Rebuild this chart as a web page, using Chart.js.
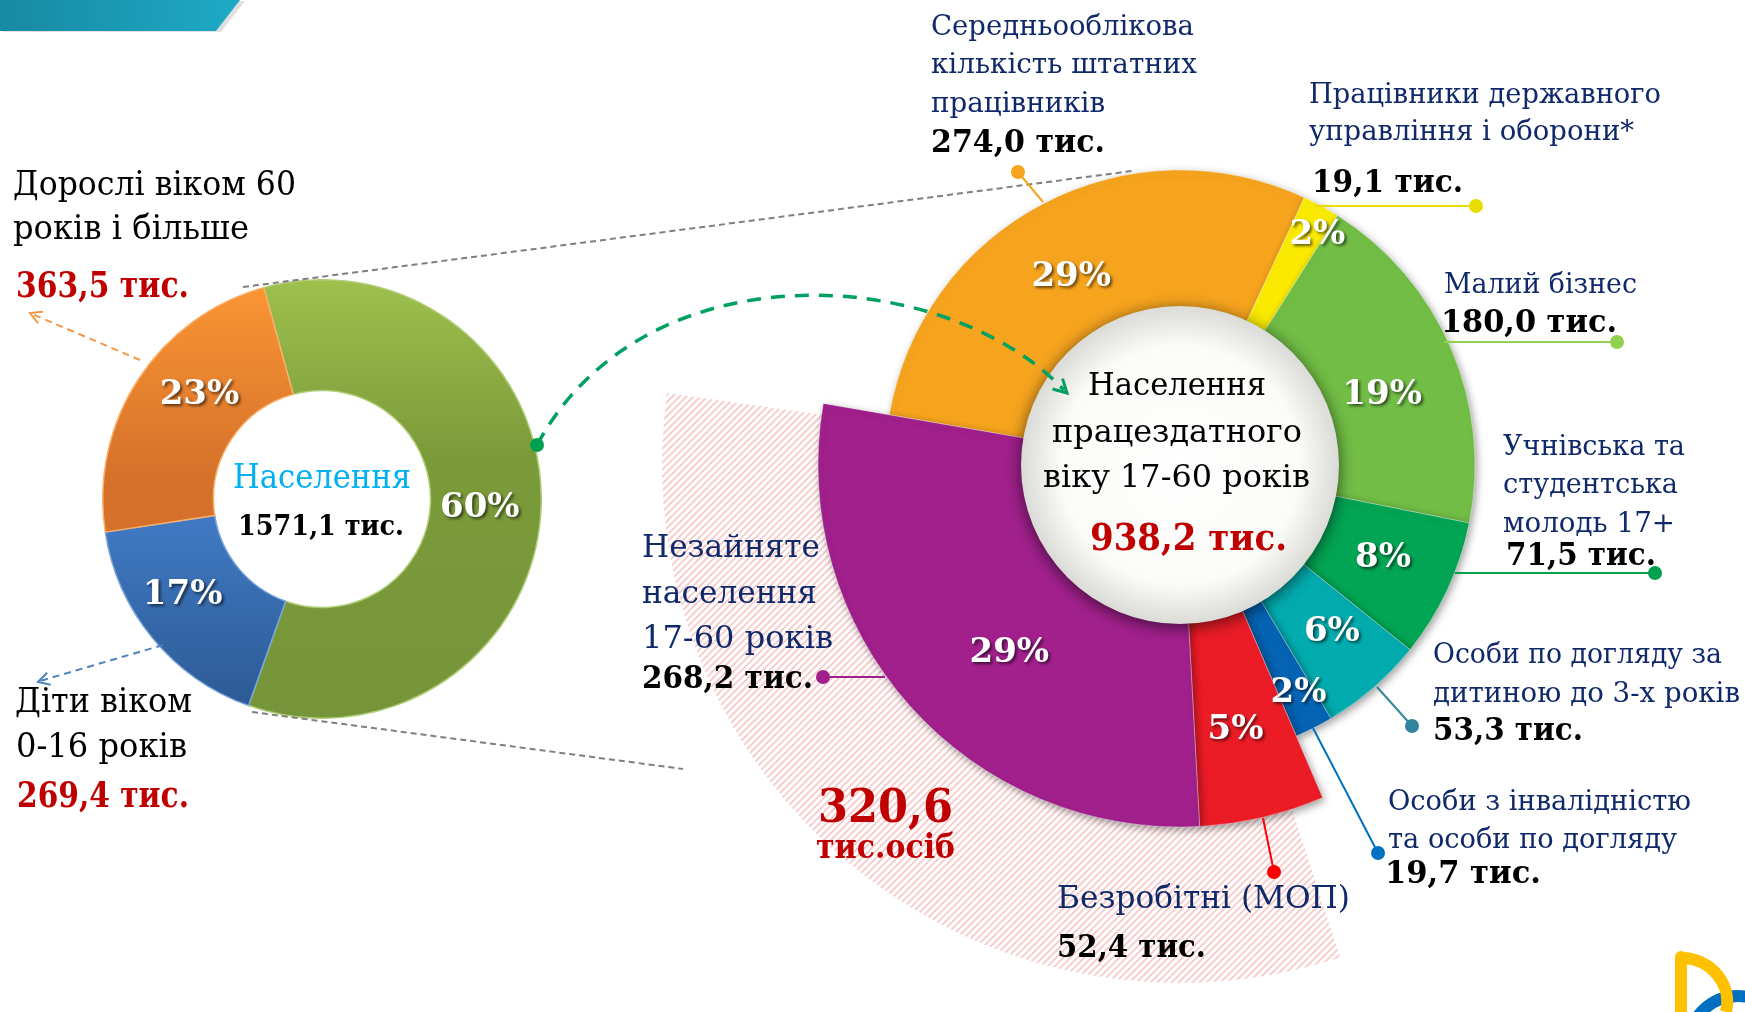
<!DOCTYPE html>
<html>
<head>
<meta charset="utf-8">
<script src="https://cdn.jsdelivr.net/npm/chart.js@4.4.1/dist/chart.umd.min.js"></script>
<style>
    html, body { margin: 0; padding: 0; width: 1745px; height: 1012px; overflow: hidden; background: #fff; }
    #leftWrap { position: absolute; left: 102px; top: 279px; width: 440px; height: 440px; }
    #rightWrap { position: absolute; left: 633px; top: -82px; width: 1094px; height: 1094px; }
    #overlay { position: absolute; left: 0; top: 0; width: 1745px; height: 1012px; pointer-events: none; }
</style>
</head>
<body>
<div id="rightWrap"><canvas id="rightChart"></canvas></div>
<div id="leftWrap"><canvas id="leftChart"></canvas></div>
<svg id="overlay" xmlns="http://www.w3.org/2000/svg" width="1745" height="1012"></svg>

<script>
// Населення (ліва діаграма)
const leftCategories = ['Населення працездатного віку 17-60 років', 'Діти віком 0-16 років', 'Дорослі віком 60 років і більше'];
const leftValues = [938.2, 269.4, 363.5];
const leftShareLabels = ['60%', '17%', '23%'];

// Населення працездатного віку (права діаграма)
const rightCategories = [
    'Середньооблікова кількість штатних працівників',
    'Працівники державного управління і оборони*',
    'Малий бізнес',
    'Учнівська та студентська молодь 17+',
    'Особи по догляду за дитиною до 3-х років',
    'Особи з інвалідністю та особи по догляду',
    'Безробітні (МОП)',
    'Незайняте населення 17-60 років'
];
const rightValues = [274.0, 19.1, 180.0, 71.5, 53.3, 19.7, 52.4, 268.2];
const rightShareLabels = ['29%', '2%', '19%', '8%', '6%', '2%', '5%', '29%'];
const outsideWorkforce = ['Безробітні (МОП)', 'Незайняте населення 17-60 років'];

// styles
const rightColors = ['#f6a41e', '#fbea00', '#71bd45', '#02a553', '#02abae', '#0563b3', '#ec1c27', '#a1208c'];
// label placement: radius and small angle shift (degrees) from the slice middle
const rightLabelRadius = [220, 270, 215, 222, 224, 254, 268, 252];
const rightLabelShift = [-2, 2, 3.3, -1.2, -1.7, -0.8, 1.2, -5.7];
const leftLabelNudge = [[-6, 0], [-13, -11], [15, -18]];
const FONT = '"DejaVu Serif", "Liberation Serif", serif';
const NAVY = '#10296a';
const DARKRED = '#c00000';

function fmt(v) {
    return v.toFixed(1).replace('.', ',') + ' тис.';
}

function sum(arr) {
    return arr.reduce((a, b) => a + b, 0);
}

// gradients for the left doughnut
function leftFill(ctx) {
    const chart = ctx.chart;
    const area = chart.chartArea;
    if (!area) return '#888';
    const c = chart.ctx;
    const cy = (area.top + area.bottom) / 2;
    let g;
    if (ctx.dataIndex === 0) {
        g = c.createLinearGradient(0, area.top, 0, area.bottom);
        g.addColorStop(0, '#9ec04d');
        g.addColorStop(0.4, '#7b9b3a');
        g.addColorStop(1, '#76953a');
    } else if (ctx.dataIndex === 1) {
        g = c.createLinearGradient(0, cy - 30, 0, area.bottom - 20);
        g.addColorStop(0, '#4682d0');
        g.addColorStop(1, '#2d5b97');
    } else {
        g = c.createLinearGradient(0, area.top + 10, 0, cy - 20);
        g.addColorStop(0, '#fa9434');
        g.addColorStop(1, '#d5712a');
    }
    return g;
}

function makeHatch() {
    const c = document.createElement('canvas');
    c.width = 7;
    c.height = 7;
    const g = c.getContext('2d');
    g.strokeStyle = 'rgba(240, 120, 120, 0.42)';
    g.lineWidth = 1.6;
    g.beginPath();
    g.moveTo(0, 7); g.lineTo(7, 0);
    g.moveTo(-1, 1); g.lineTo(1, -1);
    g.moveTo(6, 8); g.lineTo(8, 6);
    g.stroke();
    return g.createPattern(c, 'repeat');
}

function drawShare(ctx, text, x, y) {
    ctx.save();
    ctx.font = 'bold 34px ' + FONT;
    ctx.textAlign = 'center';
    ctx.textBaseline = 'middle';
    ctx.shadowColor = 'rgba(0,0,0,0.6)';
    ctx.shadowBlur = 3;
    ctx.shadowOffsetX = 2;
    ctx.shadowOffsetY = 2;
    ctx.fillStyle = '#ffffff';
    ctx.fillText(text, x, y + 3);
    ctx.restore();
}

const leftLabelPlugin = {
    id: 'leftLabels',
    afterDatasetsDraw(chart) {
        const meta = chart.getDatasetMeta(0);
        meta.data.forEach((arc, i) => {
            const mid = (arc.startAngle + arc.endAngle) / 2;
            const r = (arc.innerRadius + arc.outerRadius) / 2;
            drawShare(chart.ctx, leftShareLabels[i],
                arc.x + r * Math.cos(mid) + leftLabelNudge[i][0],
                arc.y + r * Math.sin(mid) + leftLabelNudge[i][1]);
        });
    }
};

const rightRingPlugin = {
    id: 'rightRing',
    afterDatasetsUpdate(chart) {
        const ring = chart.getDatasetMeta(0);
        ring.data.forEach((arc, i) => {
            arc.innerRadius = 150;
            arc.outerRadius = outsideWorkforce.includes(rightCategories[i]) ? 362 : 295;
        });
        const hatch = chart.getDatasetMeta(1);
        hatch.data.forEach(arc => {
            arc.innerRadius = 0;
            arc.outerRadius = 518;
        });
    },
    beforeDatasetDraw(chart, args) {
        if (args.index === 0) {
            const c = chart.ctx;
            c.save();
            c.shadowColor = 'rgba(0,0,0,0.38)';
            c.shadowBlur = 9;
            c.shadowOffsetX = 2;
            c.shadowOffsetY = 3;
        }
    },
    afterDatasetDraw(chart, args) {
        if (args.index === 0) chart.ctx.restore();
    },
    afterDatasetsDraw(chart) {
        const c = chart.ctx;
        const ring = chart.getDatasetMeta(0);
        const cx = ring.data[0].x;
        const cy = ring.data[0].y;
        // white centre disc
        c.save();
        c.shadowColor = 'rgba(0,0,0,0.6)';
        c.shadowBlur = 16;
        c.shadowOffsetY = 3;
        const g = c.createRadialGradient(cx, cy, 0, cx, cy, 159);
        g.addColorStop(0, '#ffffff');
        g.addColorStop(0.75, '#fbfbf8');
        g.addColorStop(1, '#dadad6');
        c.fillStyle = g;
        c.beginPath();
        c.arc(cx, cy, 159, 0, Math.PI * 2);
        c.fill();
        c.restore();
        ring.data.forEach((arc, i) => {
            const mid = (arc.startAngle + arc.endAngle) / 2 + rightLabelShift[i] * Math.PI / 180;
            const r = rightLabelRadius[i];
            drawShare(c, rightShareLabels[i], arc.x + r * Math.cos(mid), arc.y + r * Math.sin(mid));
        });
    }
};

document.addEventListener('DOMContentLoaded', function() {
    new Chart(document.getElementById('leftChart'), {
        type: 'doughnut',
        data: {
            labels: leftCategories,
            datasets: [{
                data: leftValues,
                backgroundColor: leftFill,
                borderColor: ['#b1cd78', '#79a4da', '#fbb06a'],
                borderWidth: 1.5
            }]
        },
        options: {
            responsive: true,
            maintainAspectRatio: false,
            animation: false,
            events: [],
            rotation: -15.4,
            cutout: '49.5%',
            plugins: { legend: { display: false }, tooltip: { enabled: false } }
        },
        plugins: [leftLabelPlugin]
    });

    const hatch = makeHatch();
    new Chart(document.getElementById('rightChart'), {
        type: 'doughnut',
        data: {
            labels: rightCategories,
            datasets: [{
                data: rightValues,
                backgroundColor: rightColors,
                borderColor: 'rgba(255,255,255,0.35)',
                borderWidth: 1
            }, {
                // hatched fan behind the "not working" slices, slightly narrower sweep
                data: rightValues,
                backgroundColor: rightCategories.map(c => outsideWorkforce.includes(c) ? hatch : 'rgba(0,0,0,0)'),
                borderWidth: 0,
                rotation: -61.5,
                circumference: 339.5
            }]
        },
        options: {
            responsive: true,
            maintainAspectRatio: false,
            animation: false,
            events: [],
            rotation: -80.2,
            plugins: { legend: { display: false }, tooltip: { enabled: false } }
        },
        plugins: [rightRingPlugin]
    });

    // ---- annotations (svg overlay) ----
    const svg = document.getElementById('overlay');
    const NS = 'http://www.w3.org/2000/svg';

    function el(name, attrs) {
        const e = document.createElementNS(NS, name);
        for (const k in attrs) e.setAttribute(k, attrs[k]);
        svg.appendChild(e);
        return e;
    }

    function txt(str, x, y, size, color, bold, len) {
        const t = el('text', {
            x: x, y: y, fill: color,
            'font-family': FONT, 'font-size': size,
            'font-weight': bold ? 'bold' : 'normal'
        });
        if (len) {
            t.setAttribute('textLength', len);
            t.setAttribute('lengthAdjust', 'spacingAndGlyphs');
        }
        t.textContent = str;
    }

    function arrowHead(x, y, dx, dy, size, color, width) {
        const a = Math.atan2(dy, dx);
        const p1 = [x - size * Math.cos(a - 0.5), y - size * Math.sin(a - 0.5)];
        const p2 = [x - size * Math.cos(a + 0.5), y - size * Math.sin(a + 0.5)];
        el('polyline', {
            points: p1.join(',') + ' ' + x + ',' + y + ' ' + p2.join(','),
            fill: 'none', stroke: color, 'stroke-width': width
        });
    }

    // banner
    const defs = el('defs', {});
    const lg = document.createElementNS(NS, 'linearGradient');
    lg.setAttribute('id', 'banner');
    lg.innerHTML = '<stop offset="0" stop-color="#1889a2"/><stop offset="1" stop-color="#1eaac6"/>';
    defs.appendChild(lg);
    el('polygon', { points: '0,0 242,0 218,31 0,31', fill: 'rgba(0,0,0,0.12)', transform: 'translate(3,1)' });
    el('polygon', { points: '0,0 240,0 216,31 0,31', fill: 'url(#banner)' });

    // connector lines between the two doughnuts
    el('line', { x1: 243, y1: 287, x2: 1132, y2: 171, stroke: '#7f7f7f', 'stroke-width': 2, 'stroke-dasharray': '6 4' });
    el('line', { x1: 252, y1: 712, x2: 683, y2: 769, stroke: '#7f7f7f', 'stroke-width': 2, 'stroke-dasharray': '6 4' });

    // arrows from the left doughnut
    el('line', { x1: 140, y1: 360, x2: 32, y2: 314, stroke: '#f79646', 'stroke-width': 2, 'stroke-dasharray': '7 5' });
    arrowHead(30, 313, -110, -47, 13, '#f79646', 2);
    el('line', { x1: 163, y1: 645, x2: 40, y2: 681, stroke: '#4f81bd', 'stroke-width': 2, 'stroke-dasharray': '7 5' });
    arrowHead(38, 682, -125, 37, 13, '#4f81bd', 2);

    // green curved arrow
    el('path', {
        d: 'M 537 445 C 645 245, 945 265, 1064 390',
        fill: 'none', stroke: '#00a060', 'stroke-width': 3.5, 'stroke-dasharray': '14 10'
    });
    arrowHead(1067, 393, 127, 123, 15, '#00a060', 3);
    el('circle', { cx: 537, cy: 445, r: 7, fill: '#00a050' });

    // leader lines + dots for the right doughnut
    const leaders = [
        [1043, 202, 1018, 172, '#f6a41e'],
        [1315, 206, 1476, 206, '#e8dc00'],
        [1444, 342, 1617, 342, '#92d050'],
        [1455, 573, 1655, 573, '#00a050'],
        [1377, 687, 1412, 726, '#31849b'],
        [1313, 728, 1378, 853, '#0070c0'],
        [1263, 818, 1274, 872, '#ff0000'],
        [885, 677, 823, 677, '#a1208c']
    ];
    leaders.forEach(l => {
        el('line', { x1: l[0], y1: l[1], x2: l[2], y2: l[3], stroke: l[4], 'stroke-width': 2 });
        el('circle', { cx: l[2], cy: l[3], r: 7, fill: l[4] });
    });

    // texts - left doughnut
    const leftTotal = sum(leftValues);
    txt('Дорослі віком 60', 13, 195, 34, '#000', false, 283);
    txt('років і більше', 13, 239, 34, '#000', false, 236);
    txt(fmt(leftValues[2]), 16, 297, 35, DARKRED, true, 173);
    txt('Діти віком', 15, 712, 34, '#000', false, 177);
    txt('0-16 років', 16, 757, 34, '#000', false, 171);
    txt(fmt(leftValues[1]), 17, 807, 35, DARKRED, true, 172);
    txt('Населення', 233, 488, 34, '#00b0f0', false, 178);
    txt(fmt(leftTotal), 238, 535, 28, '#000', true, 166);

    // texts - right doughnut
    txt('Середньооблікова', 931, 35, 28, NAVY, false, 263);
    txt('кількість штатних', 931, 73, 28, NAVY, false, 266);
    txt('працівників', 931, 112, 28, NAVY, false, 174);
    txt(fmt(rightValues[0]), 931, 152, 32, '#000', true, 174);

    txt('Працівники державного', 1309, 103, 28, NAVY, false, 352);
    txt('управління і оборони*', 1309, 140, 28, NAVY, false, 325);
    txt(fmt(rightValues[1]), 1312, 192, 32, '#000', true, 151);

    txt('Малий бізнес', 1444, 293, 28, NAVY, false, 193);
    txt(fmt(rightValues[2]), 1441, 332, 32, '#000', true, 176);

    txt('Учнівська та', 1503, 455, 28, NAVY, false, 182);
    txt('студентська', 1503, 493, 28, NAVY, false, 175);
    txt('молодь  17+', 1503, 532, 28, NAVY, false, 172);
    txt(fmt(rightValues[3]), 1506, 565, 32, '#000', true, 150);

    txt('Особи по догляду за', 1433, 663, 28, NAVY, false, 289);
    txt('дитиною до 3-х років', 1433, 702, 28, NAVY, false, 307);
    txt(fmt(rightValues[4]), 1433, 740, 32, '#000', true, 150);

    txt('Особи з інвалідністю', 1388, 810, 28, NAVY, false, 303);
    txt('та особи по догляду', 1388, 848, 28, NAVY, false, 289);
    txt(fmt(rightValues[5]), 1385, 883, 32, '#000', true, 156);

    txt('Безробітні (МОП)', 1057, 908, 32, NAVY, false, 293);
    txt(fmt(rightValues[6]), 1057, 957, 32, '#000', true, 149);

    txt('Незайняте', 642, 557, 32, NAVY, false, 178);
    txt('населення', 642, 603, 32, NAVY, false, 175);
    txt('17-60 років', 642, 648, 32, NAVY, false, 191);
    txt(fmt(rightValues[7]), 642, 688, 32, '#000', true, 171);

    const outsideTotal = sum(rightValues.filter((v, i) => outsideWorkforce.includes(rightCategories[i])));
    txt(outsideTotal.toFixed(1).replace('.', ','), 818, 822, 46, DARKRED, true, 135);
    txt('тис.осіб', 816, 858, 34, DARKRED, true, 139);

    txt('Населення', 1088, 395, 32, '#000', false, 178);
    txt('працездатного', 1052, 442, 32, '#000', false, 250);
    txt('віку 17-60 років', 1043, 487, 32, '#000', false, 267);
    txt(fmt(sum(rightValues)), 1090, 550, 38, DARKRED, true, 197);

    // logo corner
    el('circle', { cx: 1738, cy: 1046, r: 50, fill: 'none', stroke: '#0070c0', 'stroke-width': 12 });
    el('path', { d: 'M 1682 958 A 46 44 0 0 1 1726 1012', fill: 'none', stroke: '#ffc000', 'stroke-width': 12 });
    el('rect', { x: 1675, y: 951, width: 12, height: 70, rx: 6, fill: '#ffc000' });
});
</script>
</body>
</html>
